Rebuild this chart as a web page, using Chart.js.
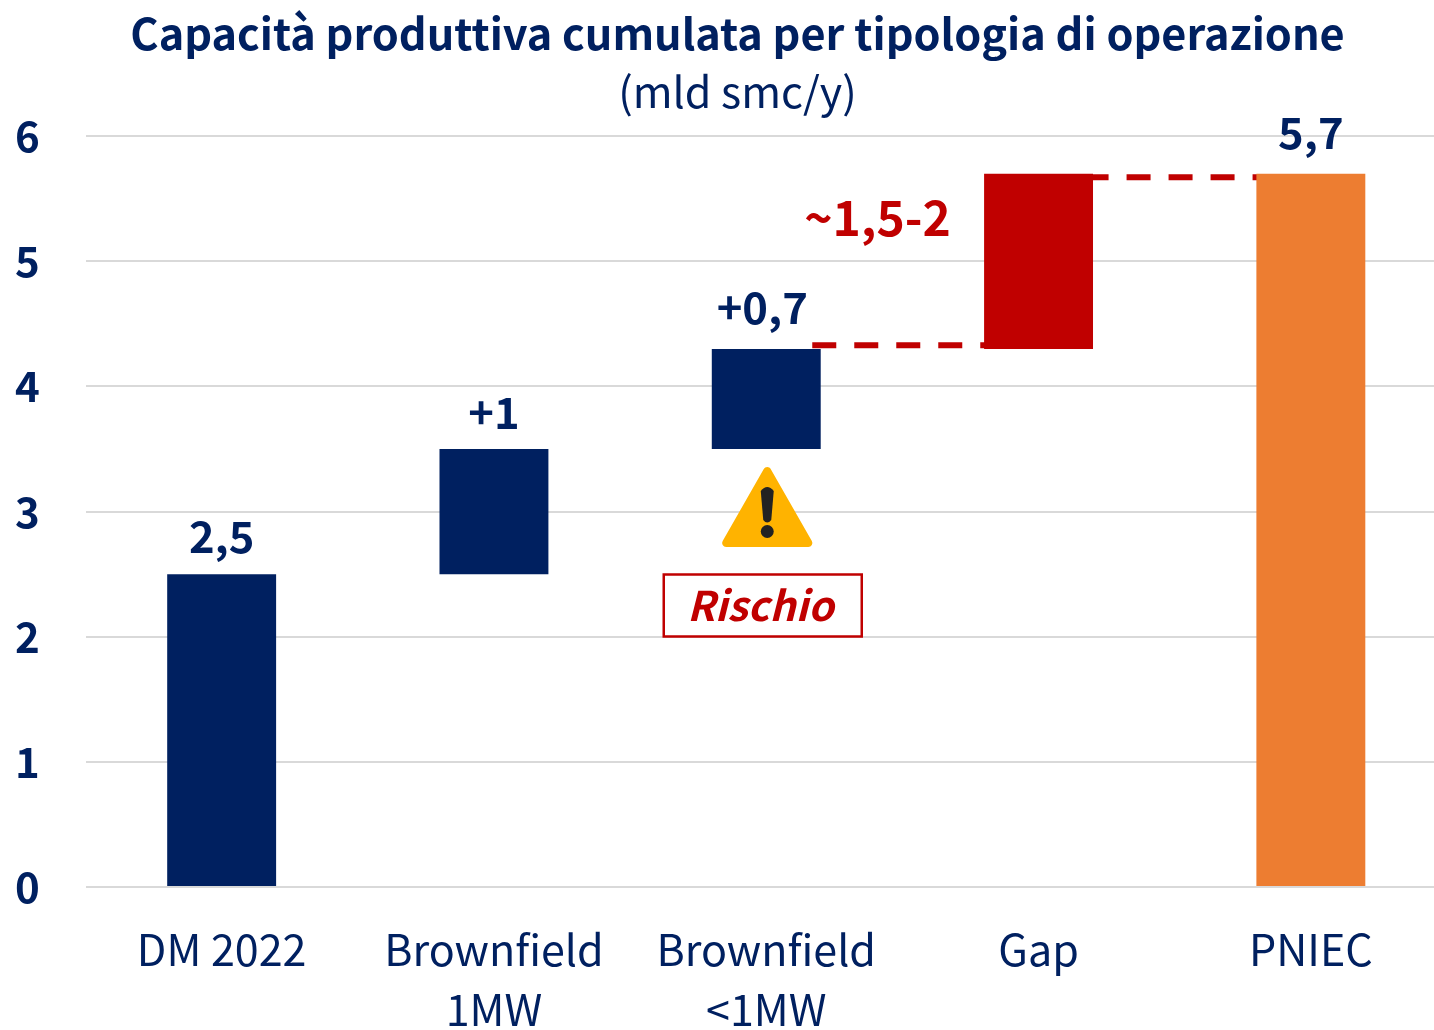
<!DOCTYPE html>
<html><head><meta charset="utf-8">
<style>html,body{margin:0;padding:0;background:#fff;overflow:hidden;width:1434px;height:1030px}canvas{display:block}</style>
<script src="https://cdn.jsdelivr.net/npm/chart.js@4"></script>
</head><body><canvas id="c" width="1475" height="1030"></canvas>
<script>
const categories=[["DM 2022"],["Brownfield","1MW"],["Brownfield","<1MW"],["Gap"],["PNIEC"]];
const barStarts=[0,2.5,3.5,4.3,0];
const barEnds=[2.5,3.5,4.3,5.7,5.7];
const valueLabels=["2,5","+1","+0,7","~1,5-2","5,7"];
const barColors=["#002060","#002060","#002060","#C00000","#ED7D31"];
const dashA=[{x:2.169,y:4.33},{x:2.85,y:4.33}];
const dashB=[{x:3.169,y:5.672},{x:3.85,y:5.672}];
const titleText="Capacità produttiva cumulata per tipologia di operazione";
const subtitleText="(mld smc/y)";
const riskLabel="Rischio";
const FONT='"Noto Sans CJK SC","Noto Sans",sans-serif';
const NAVY="#002060",RED="#C00000";
const labelLift=[21,20,25,0,25];

const dashes={id:'dashes',beforeDatasetsDraw(chart){
  const {ctx,scales:{x,y}}=chart;
  ctx.save();
  ctx.strokeStyle=RED;ctx.lineWidth=6;ctx.setLineDash([24,18]);
  [dashA,dashB].forEach(seg=>{
    ctx.beginPath();
    ctx.moveTo(x.getPixelForValue(seg[0].x),y.getPixelForValue(seg[0].y));
    ctx.lineTo(x.getPixelForValue(seg[1].x),y.getPixelForValue(seg[1].y));
    ctx.stroke();
  });
  ctx.restore();
}};

const overlay={id:'overlay',afterDatasetsDraw(chart){
  const {ctx,scales:{x,y}}=chart;
  ctx.save();
  ctx.textAlign='center';ctx.textBaseline='alphabetic';
  valueLabels.forEach((t,i)=>{
    const px=x.getPixelForValue(i),top=y.getPixelForValue(barEnds[i]);
    if(i===3){ctx.font='bold 48px '+FONT;ctx.fillStyle=RED;ctx.fillText(t,px-161,top+62);}
    else{ctx.font='bold 43.5px '+FONT;ctx.fillStyle=NAVY;ctx.fillText(t,px+(i===2?-4:0),top-labelLift[i]);}
  });
  const cx=x.getPixelForValue(2)+1,yTop=463,yBot=547,half=48;
  ctx.beginPath();
  ctx.moveTo(cx,yTop);
  ctx.arcTo(cx+half,yBot,cx-half,yBot,4);
  ctx.arcTo(cx-half,yBot,cx,yTop,4);
  ctx.arcTo(cx,yTop,cx+half,yBot,4);
  ctx.closePath();
  ctx.fillStyle='#FFB300';ctx.fill();
  ctx.fillStyle='#222222';
  ctx.beginPath();
  ctx.moveTo(cx-6.5,491);ctx.quadraticCurveTo(cx,483,cx+6.5,491);
  ctx.lineTo(cx+4,520);ctx.quadraticCurveTo(cx,525,cx-4,520);ctx.closePath();ctx.fill();
  ctx.beginPath();ctx.arc(cx,531.5,6.5,0,Math.PI*2);ctx.fill();
  const bx=x.getPixelForValue(2)-102.5;
  ctx.fillStyle='#fff';ctx.fillRect(bx,574,198,63);
  ctx.strokeStyle=RED;ctx.lineWidth=2.5;ctx.strokeRect(bx,574.5,198,62);
  ctx.fillStyle=RED;ctx.font='italic bold 41px '+FONT;
  ctx.fillText(riskLabel,bx+96.5,621);
  ctx.restore();
}};

new Chart(document.getElementById('c'),{
  type:'bar',
  data:{labels:categories,datasets:[
    {data:barStarts.map((s,i)=>[s,barEnds[i]]),backgroundColor:barColors,borderWidth:0,barPercentage:0.4,categoryPercentage:1}
  ]},
  plugins:[dashes,overlay],
  options:{
    responsive:false,animation:false,
    layout:{padding:{left:28,right:28,top:0,bottom:0}},
    plugins:{
      legend:{display:false},tooltip:{enabled:false},
      title:{display:true,text:titleText,color:NAVY,font:{family:FONT,size:43.25,weight:'bold',lineHeight:1.2},padding:{top:8,bottom:0}},
      subtitle:{display:true,text:subtitleText,color:NAVY,font:{family:FONT,size:43,weight:'normal',lineHeight:1.2},padding:{top:5.7,bottom:19}}
    },
    scales:{
      x:{grid:{display:false},border:{display:false},
        ticks:{color:NAVY,font:{family:FONT,size:43,lineHeight:1.4},padding:24.5,maxRotation:0,autoSkip:false},
        afterFit(s){s.height=143;}},
      y:{min:0,max:6,grid:{color:'#D9D9D9',lineWidth:2,drawTicks:false},border:{display:false},
        ticks:{stepSize:1,color:NAVY,font:{family:FONT,size:42,weight:'bold'},mirror:true,padding:-70.5},
        afterFit(s){s.width=57.5;}}
    }
  }
});
</script></body></html>
